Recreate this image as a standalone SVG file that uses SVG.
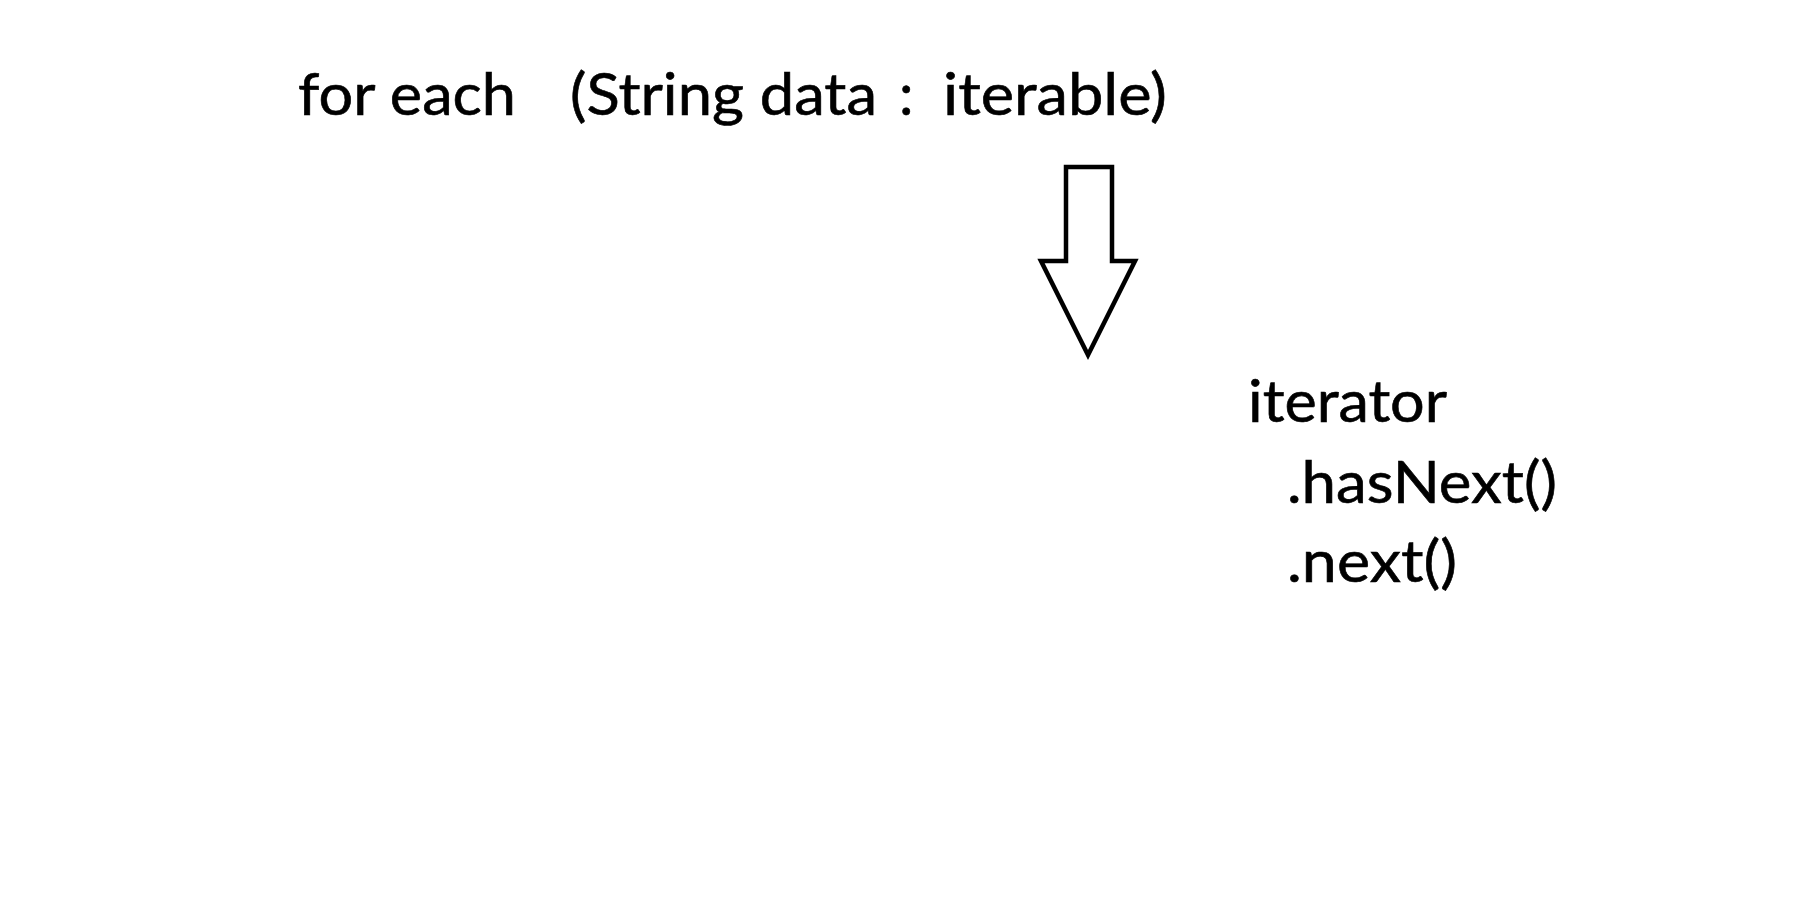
<svg xmlns="http://www.w3.org/2000/svg" width="1801" height="920" viewBox="0 0 1801 920">
<style>
.t{font-family:Lato,"Open Sans",sans-serif;font-size:58px;fill:#000;stroke:#000;stroke-width:0.6}
.arrow{fill:#fff;stroke:#000;stroke-width:4.5;stroke-linejoin:miter}
</style>
<rect width="1801" height="920" fill="#fff"/>
<g id="foreach">
<text class="t" x="298" y="115" textLength="218" lengthAdjust="spacingAndGlyphs">for each</text>
<text class="t" x="570" y="115" textLength="307" lengthAdjust="spacingAndGlyphs">(String data</text>
<text class="t" x="899" y="115">:</text>
<text class="t" x="943" y="115" textLength="224" lengthAdjust="spacingAndGlyphs">iterable)</text>
</g>
<g id="connectors">
<path class="arrow" d="M1066,167 H1112 V261 H1135 L1088,355 L1041,261 H1066 Z"/>
</g>
<g id="iterator">
<text class="t" x="1248" y="422" textLength="199" lengthAdjust="spacingAndGlyphs">iterator</text>
<text class="t" x="1287" y="503" textLength="270" lengthAdjust="spacingAndGlyphs">.hasNext()</text>
<text class="t" x="1287" y="582" textLength="170" lengthAdjust="spacingAndGlyphs">.next()</text>
</g>
</svg>
